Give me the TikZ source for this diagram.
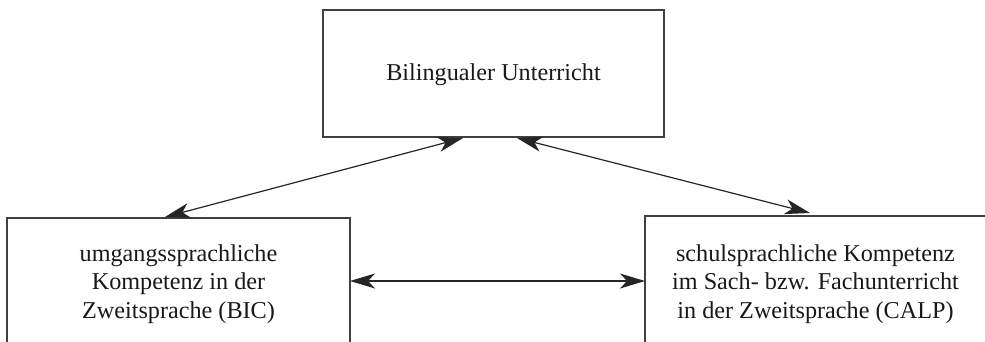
\documentclass[tikz,border=0pt]{standalone}
\usepackage{fontspec}
\setmainfont{Liberation Serif}
\usetikzlibrary{arrows.meta}
\begin{document}
\begin{tikzpicture}[x=1pt,y=-1pt,
  txt/.style={align=center,font=\fontsize{24.2}{28.5}\selectfont,text=black!90,inner sep=0pt},
  boxline/.style={draw=black!75,line width=1.1pt},
  conn/.style={draw=black!85,line width=1.2pt,{Stealth[length=25pt,width=15pt,inset=7pt]}-{Stealth[length=25pt,width=15pt,inset=7pt]}}]
\useasboundingbox (0,0) rectangle (985,342);
\clip (0,0) rectangle (985,342);
\fill[white] (0,0) rectangle (985,342);
\node[boxline,minimum width=341pt,minimum height=127pt,inner sep=0pt] (top) at (493.5,73.5) {};
\node[txt] (toptext) at (493.5,75.2) {Bilingualer Unterricht};
\node[txt] (left) at (178.5,284) {umgangssprachliche\\Kompetenz in der\\Zweitsprache (BIC)};
\node[txt] (right) at (815.5,284) {schulsprachliche Kompetenz\\im Sach- bzw. Fachunterricht\\in der Zweitsprache (CALP)};
\coordinate (bot) at (0,350);
\coordinate (lt) at (7,218);
\coordinate (rt) at (645,216);
\draw[boxline] (lt |- bot) -- (lt) -- (350,218) -- (350,350);
\draw[boxline] (rt |- bot) -- (rt) -- (995,216);
\coordinate (lA) at (463,138);
\coordinate (lB) at (165,217);
\coordinate (rA) at (517,138);
\coordinate (rB) at (810,213);
\coordinate (hA) at (350,281);
\coordinate (hB) at (645,281);
\draw[conn] (lA) -- (lB);
\draw[conn] (rA) -- (rB);
\draw[conn] (hA) -- (hB);
\end{tikzpicture}
\end{document}
